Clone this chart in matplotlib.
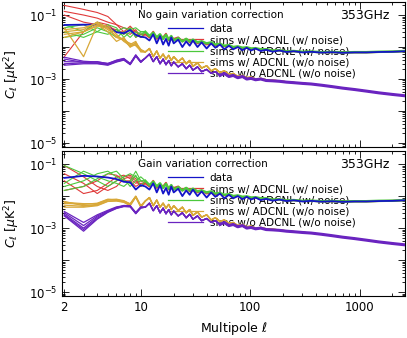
import matplotlib
matplotlib.use("Agg")
import matplotlib.pyplot as plt
import numpy as np
from matplotlib.lines import Line2D
from matplotlib.ticker import FixedLocator, NullFormatter, LogLocator, FuncFormatter

# multipoles
ell_low = [2, 3, 4, 5, 6, 7, 8, 9, 10]
ell_tail = [11, 12, 13, 14, 15, 16, 17, 18, 19, 20, 22, 24, 26, 28, 30, 33, 36, 40, 44, 48,
            53, 58, 64, 70, 77, 85, 93, 102, 112, 125, 140, 160, 185, 215, 250, 300, 360,
            450, 560, 700, 900, 1150, 1500, 2000, 2600]

# high-ell spectra (shared by both panels)
data_tail = [0.020, 0.016, 0.025, 0.013, 0.022, 0.012, 0.018, 0.011, 0.020, 0.013, 0.017, 0.010,
             0.015, 0.011, 0.016, 0.010, 0.014, 0.009, 0.013, 0.0095, 0.012, 0.0085, 0.011, 0.0085,
             0.010, 0.008, 0.0095, 0.0078, 0.009, 0.0075, 0.0082, 0.0072, 0.0078, 0.0070, 0.0074,
             0.0068, 0.0071, 0.0067, 0.0069, 0.0066, 0.0068, 0.0068, 0.0070, 0.0071, 0.0074]
red_tail = [0.025, 0.020, 0.030, 0.018, 0.022, 0.020, 0.026, 0.016, 0.020, 0.018, 0.020, 0.015,
            0.018, 0.014, 0.016, 0.013, 0.015, 0.012, 0.013, 0.011, 0.012, 0.0105, 0.011, 0.0095,
            0.010, 0.009, 0.0095, 0.0085, 0.009, 0.008, 0.0083, 0.0076, 0.0078, 0.0072, 0.0074,
            0.0070, 0.0071, 0.0068, 0.0069, 0.0067, 0.0068, 0.0068, 0.0070, 0.0071, 0.0074]
green_tail = [0.030, 0.022, 0.028, 0.020, 0.025, 0.018, 0.024, 0.017, 0.022, 0.016, 0.019, 0.015,
              0.018, 0.015, 0.017, 0.014, 0.015, 0.013, 0.014, 0.012, 0.0125, 0.011, 0.0115, 0.010,
              0.0105, 0.0095, 0.0098, 0.009, 0.0092, 0.0085, 0.0085, 0.0078, 0.0079, 0.0073, 0.0075,
              0.0071, 0.0072, 0.0069, 0.0070, 0.0068, 0.0069, 0.0069, 0.0071, 0.0072, 0.0075]
gold_tail = [0.007, 0.009, 0.005, 0.0075, 0.0045, 0.006, 0.0042, 0.0055, 0.0038, 0.005, 0.0035,
             0.0045, 0.003, 0.0038, 0.0025, 0.0032, 0.0022, 0.0026, 0.0018, 0.0021, 0.0016, 0.0018,
             0.0014, 0.0015, 0.0012, 0.0013, 0.0011, 0.00115, 0.001, 0.00105, 0.00095, 0.00092,
             0.00088, 0.00082, 0.00078, 0.00074, 0.0007, 0.00064, 0.00058, 0.00052, 0.00047,
             0.00042, 0.00037, 0.00033, 0.0003]
purple_tail = [0.0045, 0.006, 0.0035, 0.005, 0.003, 0.0042, 0.0028, 0.0038, 0.0026, 0.0034, 0.0024,
               0.003, 0.0021, 0.0027, 0.0019, 0.0024, 0.0017, 0.002, 0.0015, 0.0017, 0.0013, 0.0015,
               0.0012, 0.0013, 0.0011, 0.0012, 0.001, 0.00105, 0.00095, 0.001, 0.0009, 0.00088,
               0.00085, 0.0008, 0.00077, 0.00073, 0.0007, 0.00064, 0.00058, 0.00052, 0.00047,
               0.00042, 0.00037, 0.00033, 0.0003]

# low-ell values, top panel (no gain variation correction)
top_data = [0.049, 0.050, 0.050, 0.042, 0.029, 0.027, 0.034, 0.024, 0.021]
top_red = [[0.20, 0.15, 0.12, 0.09, 0.05, 0.04, 0.035, 0.030, 0.025],
           [0.13, 0.10, 0.08, 0.06, 0.05, 0.03, 0.045, 0.030, 0.020],
           [0.10, 0.06, 0.05, 0.04, 0.035, 0.025, 0.040, 0.020, 0.025],
           [0.005, 0.03, 0.06, 0.05, 0.03, 0.03, 0.025, 0.035, 0.020]]
top_green = [[0.05, 0.03, 0.06, 0.04, 0.03, 0.04, 0.035, 0.04, 0.03],
             [0.03, 0.02, 0.03, 0.05, 0.04, 0.02, 0.03, 0.025, 0.02],
             [0.02, 0.025, 0.04, 0.03, 0.02, 0.03, 0.02, 0.03, 0.025],
             [0.04, 0.05, 0.03, 0.025, 0.035, 0.025, 0.04, 0.02, 0.03]]
top_gold = [[0.040, 0.005, 0.050, 0.030, 0.015, 0.020, 0.010, 0.012, 0.008],
            [0.030, 0.035, 0.060, 0.040, 0.020, 0.018, 0.012, 0.015, 0.007],
            [0.025, 0.030, 0.050, 0.045, 0.025, 0.015, 0.011, 0.013, 0.008],
            [0.035, 0.040, 0.055, 0.035, 0.022, 0.016, 0.013, 0.011, 0.0075],
            [0.020, 0.030, 0.045, 0.040, 0.020, 0.017, 0.010, 0.014, 0.0085]]
top_purple = [[0.0048, 0.0036, 0.0034, 0.0031, 0.0038, 0.0043, 0.0031, 0.0056, 0.0036],
              [0.0042, 0.0033, 0.0032, 0.0029, 0.0036, 0.0041, 0.0029, 0.0053, 0.0034],
              [0.0035, 0.0034, 0.0035, 0.0030, 0.0039, 0.0044, 0.0030, 0.0057, 0.0035],
              [0.0030, 0.0032, 0.0031, 0.0028, 0.0035, 0.0040, 0.0028, 0.0052, 0.0033],
              [0.0027, 0.0030, 0.0030, 0.0027, 0.0034, 0.0039, 0.0029, 0.0054, 0.0034]]

# low-ell values, bottom panel (gain variation correction)
bot_data = [0.037, 0.043, 0.041, 0.038, 0.034, 0.028, 0.027, 0.016, 0.022]
bot_red = [[0.09, 0.04, 0.02, 0.015, 0.02, 0.035, 0.04, 0.03, 0.02],
           [0.03, 0.012, 0.015, 0.025, 0.04, 0.045, 0.035, 0.025, 0.03],
           [0.015, 0.02, 0.03, 0.05, 0.045, 0.03, 0.03, 0.02, 0.025],
           [0.05, 0.025, 0.012, 0.02, 0.03, 0.04, 0.045, 0.035, 0.02]]
bot_green = [[0.09, 0.05, 0.03, 0.02, 0.03, 0.04, 0.05, 0.04, 0.03],
             [0.02, 0.03, 0.05, 0.06, 0.04, 0.03, 0.025, 0.045, 0.02],
             [0.025, 0.06, 0.04, 0.03, 0.025, 0.02, 0.03, 0.06, 0.03],
             [0.015, 0.02, 0.035, 0.05, 0.06, 0.035, 0.02, 0.03, 0.04]]
bot_gold = [[0.0068, 0.0050, 0.0055, 0.0075, 0.0078, 0.0068, 0.0055, 0.0097, 0.0048],
            [0.0060, 0.0055, 0.0060, 0.0080, 0.0075, 0.0070, 0.0058, 0.0100, 0.0050],
            [0.0052, 0.0048, 0.0052, 0.0070, 0.0072, 0.0065, 0.0052, 0.0095, 0.0046],
            [0.0045, 0.0045, 0.0050, 0.0068, 0.0070, 0.0064, 0.0050, 0.0092, 0.0045],
            [0.0064, 0.0058, 0.0058, 0.0078, 0.0080, 0.0072, 0.0056, 0.0098, 0.0049]]
bot_purple = [[0.0033, 0.0015, 0.0026, 0.0036, 0.0046, 0.0050, 0.0049, 0.0030, 0.0045],
              [0.0030, 0.0012, 0.0024, 0.0034, 0.0044, 0.0049, 0.0048, 0.0029, 0.0044],
              [0.0027, 0.0010, 0.0022, 0.0033, 0.0043, 0.0051, 0.0050, 0.0031, 0.0046],
              [0.0025, 0.0009, 0.0020, 0.0032, 0.0042, 0.0048, 0.0047, 0.0028, 0.0043],
              [0.0024, 0.0008, 0.0019, 0.0031, 0.0041, 0.0047, 0.0046, 0.0029, 0.0042]]

labels = ["data", "sims w/ ADCNL (w/ noise)", "sims w/o ADCNL (w/ noise)",
          "sims w/ ADCNL (w/o noise)", "sims w/o ADCNL (w/o noise)"]

c_data = "#1414c8"
c_red = "#e03a3a"
c_green = "#4cc83c"
c_gold = "#d8a838"
c_purple = "#6a24c0"

fig = plt.figure(figsize=(4.07, 3.38), dpi=100)
ax1 = fig.add_axes([0.152, 0.565, 0.843, 0.429])
ax2 = fig.add_axes([0.152, 0.124, 0.843, 0.429])


def draw(ax, data, reds, greens, golds, purples, title):
    ell = ell_low + ell_tail
    for r in reds:
        ax.plot(ell_low + [11], r + [red_tail[0]], color=c_red, lw=0.8, zorder=2)
    ax.plot(ell_tail, red_tail, color=c_red, lw=1.4, zorder=2)
    for g in greens:
        ax.plot(ell_low + [11], g + [green_tail[0]], color=c_green, lw=0.8, zorder=3)
    ax.plot(ell_tail, green_tail, color=c_green, lw=1.8, zorder=3)
    ax.plot(ell, data + data_tail, color=c_data, lw=1.3, zorder=4)
    for y in golds:
        ax.plot(ell, y + gold_tail, color=c_gold, lw=0.9, zorder=5)
    for p in purples:
        ax.plot(ell, p + purple_tail, color=c_purple, lw=0.9, zorder=6)
    ax.plot(ell_tail[20:], purple_tail[20:], color=c_purple, lw=2.2, zorder=6)

    ax.set_xscale("log")
    ax.set_yscale("log")
    ax.set_xlim(1.9, 2600)
    ax.set_ylim(7.5e-6, 0.255)

    ax.xaxis.set_major_locator(FixedLocator([2, 10, 100, 1000]))
    ax.xaxis.set_minor_locator(LogLocator(base=10, subs=np.arange(2, 10)))
    ax.xaxis.set_minor_formatter(NullFormatter())
    ax.yaxis.set_major_locator(LogLocator(base=10, numticks=10))
    ax.yaxis.set_minor_locator(LogLocator(base=10, subs=np.arange(2, 10), numticks=10))
    ax.yaxis.set_minor_formatter(NullFormatter())
    ax.yaxis.set_major_formatter(FuncFormatter(
        lambda v, p: r"$10^{%d}$" % round(np.log10(v)) if round(np.log10(v)) % 2 else ""))
    ax.tick_params(which="both", direction="in", top=True, right=True, labelsize=8.5, width=0.6)
    ax.tick_params(which="major", length=5)
    ax.tick_params(which="minor", length=2.5)
    for s in ax.spines.values():
        s.set_linewidth(0.8)

    ax.set_ylabel(r"$C_\ell$ [$\mu$K$^2$]", fontsize=9, labelpad=1)
    ax.yaxis.set_label_coords(-0.115, 0.5)
    ax.text(0.222, 0.91, title, transform=ax.transAxes, fontsize=7.5, va="center", zorder=1)
    ax.text(0.956, 0.91, "353GHz", transform=ax.transAxes, fontsize=9, va="center", ha="right",
            zorder=1)

    handles = [Line2D([], [], color=c, lw=0.9) for c in [c_data, c_red, c_green, c_gold, c_purple]]
    leg = ax.legend(handles, labels, loc="upper left", bbox_to_anchor=(0.309, 0.85),
                    frameon=False, fontsize=7.5, handlelength=3.4, handletextpad=0.6,
                    labelspacing=0.12, borderpad=0, borderaxespad=0)
    leg.set_zorder(1)


draw(ax1, top_data, top_red, top_green, top_gold, top_purple, "No gain variation correction")
draw(ax2, bot_data, bot_red, bot_green, bot_gold, bot_purple, "Gain variation correction")

ax1.tick_params(labelbottom=False)
ax2.set_xticklabels(["2", "10", "100", "1000"])
ax2.set_xlabel(r"Multipole $\ell$", fontsize=9)

fig.savefig("out.png", dpi=100)
